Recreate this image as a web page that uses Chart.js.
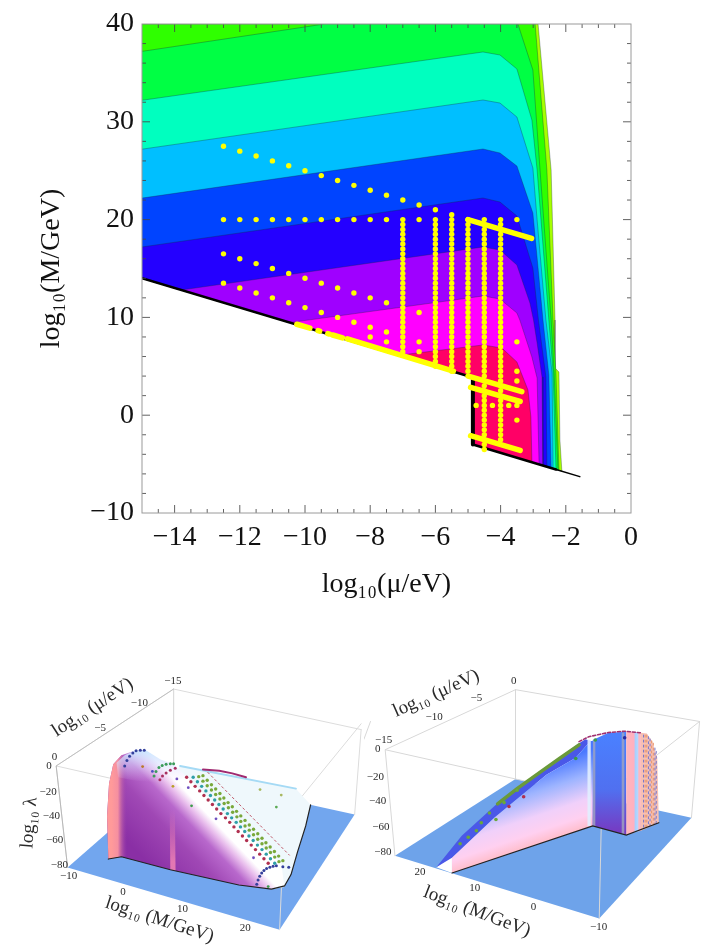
<!DOCTYPE html>
<html><head><meta charset="utf-8">
<style>
html,body{margin:0;padding:0;background:#fff;width:714px;height:949px;overflow:hidden}
canvas{position:absolute;display:block}
#main{left:0;top:0;filter:blur(.35px)}
#leftPanel{left:0;top:650px;filter:blur(.55px)}
#rightPanel{left:360px;top:650px;filter:blur(.55px)}
</style>
<script src="https://cdn.jsdelivr.net/npm/chart.js@4/dist/chart.umd.js"></script>
</head><body>
<canvas id="main" width="714" height="601"></canvas>
<canvas id="leftPanel" width="372" height="299"></canvas>
<canvas id="rightPanel" width="354" height="299"></canvas>
<script>
const SERIF='"Liberation Serif","Times New Roman",serif';
const xTitle='log₁₀(μ/eV)', yTitle='log₁₀(M/GeV)';

// ---- main contour plot: contour curves [log10 mu, log10 M] ----
const edgeX=[-15,-2.85,-2.45,-2.33,-2.33,-2.21,-2.18,-2.12];
const edgeY=[40,40,25.07,9.73,4.83,4.42,-2.54,-5.73];
const limeX=[-15,-2.94,-2.58,-2.39,-2.30,-2.21];
const limeY=[40,40,25.07,9.73,4.11,-5.64];
const c37X=[-15,-9.4,-3.47,-3.01,-2.79,-2.45,-2.36,-2.24];
const c37Y=[37.2,40,40,35.30,25.07,9.73,4.42,-5.61];
const c32X=[-15,-4.54,-4.02,-3.50,-3.04,-2.88,-2.52,-2.39,-2.30];
const c32Y=[32.2,37.14,36.83,35.40,30.18,25.07,9.73,4.42,-5.55];
const c27X=[-15,-4.54,-4.02,-3.50,-3.01,-2.88,-2.61,-2.42,-2.39];
const c27Y=[27.2,32.23,31.92,30.49,25.28,19.96,9.73,4.31,-5.46];
const c22X=[-15,-4.54,-4.02,-3.50,-3.01,-2.70,-2.52,-2.45];
const c22Y=[22.2,27.22,26.81,25.48,20.67,9.73,4.11,-5.40];
const c17X=[-15,-4.54,-4.02,-3.50,-3.01,-2.84,-2.61,-2.58];
const c17Y=[17.2,22.21,21.80,20.37,15.05,9.73,3.91,-5.27];
const c12X=[-13.8,-4.54,-4.02,-3.50,-3.10,-2.99,-2.88,-2.73,-2.70];
const c12Y=[12.8,17.20,16.89,15.36,11.47,9.73,7.38,3.91,-5.15];
const c7X=[-10.47,-4.54,-4.02,-3.50,-3.41,-3.04,-2.88,-2.82];
const c7Y=[9.47,12.19,11.88,10.45,9.73,5.95,3.80,-5.03];
const c2X=[-7.13,-4.54,-3.96,-3.50,-3.16,-3.07,-3.04];
const c2Y=[6.13,7.18,6.87,5.44,2.58,-0.18,-4.81];
const wallX=[-15,-4.85,-4.85,-1.57];
const wallY=[14,3.85,-3,-6.28];
const bandColors=['#a6ff00','#2fff00','#00ff44','#00ffbf','#00bfff','#0044ff','#2400ff','#9f00ff','#ff00ff','#ff0066'];

// ---- main contour plot: yellow sample points ----
const rowAX=[-12.5,-12,-11.5,-11,-10.5,-10,-9.5,-9,-8.5,-8,-7.5,-7,-6.5,-6];
const rowAY=[27.5,27,26.5,26,25.5,25,24.5,24,23.5,23,22.5,22,21.5,21];
const rowBX=[-12.5,-12,-11.5,-11,-10.5,-10,-9.5,-9,-8.5,-8,-7.5,-6.5,-3.5];
const rowBY=[20,20,20,20,20,20,20,20,20,20,20,20,20];
const rowCX=[-12.5,-12,-11.5,-11,-10.5,-10,-9.5,-9,-8.5,-8,-7.5,-6.5];
const rowCY=[16.5,16,15.5,15,14.5,14,13.5,13,12.5,12,11.5,10.5];
const rowDX=[-12.5,-12,-11.5,-11,-10.5,-10,-9.5,-9,-8.5,-8,-7.5,-6.5];
const rowDY=[13.5,13,12.5,12,11.5,11,10.5,10,9.5,9,8.5,7.5];
const rowEX=[-8,-7.5,-6.5,-4.75,-4.25,-3.75,-3.5,-3.5,-3.5,-3.5,-3.5];
const rowEY=[8,7.5,6.5,1,1,1,1,7.5,4.5,3.5,-0.5];
const colM7=[20,19.5,19,18.5,18,17.5,17,16.5,16,15.5,15,14.5,14,13.5,13,12.5,12,11.5,11,10.5,10,9.5,9,8.5,8,7.5,7,6.5];
const colM6=[20,19.5,19,18.5,18,17.5,17,16.5,16,15.5,15,14.5,14,13.5,13,12.5,12,11.5,11,10.5,10,9.5,9,8.5,8,7.5,7,6.5,6,5.5,5];
const colM55=[20.5,20,19.5,19,18.5,18,17.5,17,16.5,16,15.5,15,14.5,14,13.5,13,12.5,12,11.5,11,10.5,10,9.5,9,8.5,8,7.5,7,6.5,6,5.5,5,4.5];
const colM5=[20,19.5,19,18.5,18,17.5,17,16.5,16,15.5,15,14.5,14,13.5,13,12.5,12,11.5,11,10.5,10,9.5,9,8.5,8,7.5,7,6.5,6,5.5,5,4.5,4];
const colM45=[20,19.5,19,18.5,18,17.5,17,16.5,16,15.5,15,14.5,14,13.5,13,12.5,12,11.5,11,10.5,10,9.5,9,8.5,8,7.5,7,6.5,6,5.5,5,4.5,4,3.5,3,2.5,2,1.5,1,0.5,0,-0.5,-1,-1.5,-2,-2.5,-3,-3.5];
const colM4=[20,19.5,19,18.5,18,17.5,17,16.5,16,15.5,15,14.5,14,13.5,13,12.5,12,11.5,11,10.5,10,9.5,9,8.5,8,7.5,7,6.5,6,5.5,5,4.5,4,3.5,3,2.5,2,1.5,1,0.5,0,-0.5,-1,-1.5,-2,-2.5];
const barSegments=[
 [[-5,-3.05],[20,18.07]],[[-4.94,-3.35],[3.94,2.4]],[[-4.92,-3.4],[2.85,1.4]],[[-4.92,-3.4],[-2.1,-3.6]],
 [[-10.25,-9.85],[9.3,8.9]],[[-9.15,-8.85],[8.2,7.9]],[[-8.7,-5.45],[7.8,4.5]],[[-9.6,-9.55],[8.65,8.6]],[[-9.3,-9.25],[8.35,8.3]]
];
const tickXMinor=[-14.5,-13.5,-13,-12.5,-11.5,-11,-10.5,-9.5,-9,-8.5,-7.5,-7,-6.5,-5.5,-5,-4.5,-3.5,-3,-2.5,-1.5,-1,-0.5];
const tickXMajor=[-14,-12,-10,-8,-6,-4,-2];
const tickYMinor=[38,36,34,32,28,26,24,22,18,16,14,12,8,6,4,2,-2,-4,-6,-8];
const tickYMajor=[30,20,10,0];

// ---- lower-left 3D view, projected picture coordinates ----
const lBoxLines=[[[160,520],[345,108]],[[520,1095],[108,233]],[[160,860],[345,505]],[[860,1095],[505,215]],[[160,195],[345,658]],[[860,845],[505,850]],[[520,520],[108,385]],[[1095,1075],[233,495]]];
const lFloorX=[195,845,1075,520], lFloorY=[658,850,495,372];
const lPaleX=[540,895,940,925,900,880,860,820,760,640,500], lPaleY=[345,415,465,530,610,680,715,725,700,560,400];
const lFaceX=[320,316,322,335,360,400,435,480,520,560,700,850,860,820,720,510,360];
const lFaceY=[632,500,400,340,312,298,297,325,340,378,518,645,718,725,712,665,625];
const lSalmonX=[320,316,322,335,360,378,378,360], lSalmonY=[632,500,400,340,312,315,622,625];
const lStreakX=[508,524,526,510], lStreakY=[480,480,668,665];
const lGlowX=[345,370,400,435,480,520,560,510,400,350], lGlowY=[335,312,298,297,325,340,378,400,390,380];
const lEdgeX=[320,360,510,720,820,860,880,900,925,940], lEdgeY=[632,625,665,712,725,715,680,610,530,465];
const lTopEdgeX=[540,895], lTopEdgeY=[345,415];
const lCrimsonX=[560,573,586,600,613,626,639,652,665,679,692,705,718,731,744,758,771,784,797,810];
const lCrimsonY=[380,394,408,422,436,450,464,478,492,505,519,533,547,561,575,589,603,617,631,645];
const lTealX=[580,593,606,619,633,646,659,672,685,698,712,725,738,751,764,777,791,804,817,830];
const lTealY=[380,394,408,422,436,450,464,478,492,505,519,533,547,561,575,589,603,617,631,645];
const lGreenAX=[597,610,623,636,649,662,675,688,701,714,726,739,752,765,778,791,804,817,830,843];
const lGreenAY=[378,392,406,419,433,447,461,474,488,502,516,530,543,557,571,585,598,612,626,640];
const lGreenBX=[610,623,636,649,662,674,687,700,713,726,739,752,765,778,791,803,816,829,842,855];
const lGreenBY=[375,389,403,416,430,444,458,471,485,499,513,527,540,554,568,582,595,609,623,637];
const lNavyX=[775,779,784,790,797,805,815,825,835,855,873,370,377,385,395,405,418,430];
const lNavyY=[710,697,685,675,667,661,657,654,653,656,657,345,328,315,305,298,297,297];
const lArcGreenX=[460,466,475,485,497,510,520], lArcGreenY=[376,362,350,344,340,338,338];
const lArcRedX=[478,486,497,510,525], lArcRedY=[388,376,367,358,352];
const lScatterX=[575,425,518,810,835,785,850,565,650,455,530,765];
const lScatterY=[468,347,408,717,472,418,435,412,508,362,385,628];
const lScatterC=['#3c9c4a','#b87a28','#b8a028','#3c9c4a','#5caa55','#a8b860','#a8b860','#7050c0','#7050c0','#5050c0','#7050c0','#7050c0'];
const lWireX=[625,875], lWireY=[365,620];
const lRidgeX=[610,660,700,742], lRidgeY=[356,360,368,380];

// ---- lower-right 3D view, projected picture coordinates ----
const rBoxLines=[[[65,465],[295,110]],[[465,1030],[110,208]],[[65,730],[295,445]],[[730,1030],[445,208]],[[65,95],[295,622]],[[730,722],[445,815]],[[465,465],[110,385]],[[1030,1005],[208,505]],[[0,20],[262,208]]];
const rFloorX=[95,722,1005,465], rFloorY=[622,815,505,385];
const rGapX=[222,270,270], rGapY=[657,622,675];
const rBlueX=[222,300,410,530,660,680,695,650,560,400,270];
const rBlueY=[657,560,460,370,275,263,268,320,372,505,628];
const rFaceX=[270,270,400,560,650,695,705,702];
const rFaceY=[675,628,505,372,320,268,268,530];
const rBlockX=[702,750,805,805,702], rBlockY=[265,243,240,558,530];
const rPinkX=[805,850,850,805], rPinkY=[240,243,545,558];
const rSpeckX=[850,868,885,900,905,850], rSpeckY=[243,245,270,320,520,545];
const rEdgeX=[270,702,805,905], rEdgeY=[675,530,558,520];
const rStripeA=[[[686,696],[264,530]],[[703,710],[266,532]],[[791,799],[242,555]]];
const rRidgeX=[410,470,530,600,660], rRidgeY=[462,415,372,322,280];
const rTopX=[660,690,750,800,850], rTopY=[270,255,242,238,243];
const rDotsX=[710,800,650,470,430,385,345,320,295,490,445,405,360];
const rDotsY=[265,258,322,420,458,490,545,565,585,440,470,510,520];
const rDotsC=['#3c9c4a','#2a2aa0','#3c9c4a','#6aa83a','#6aa83a','#6aa83a','#6aa83a','#6aa83a','#6aa83a','#b03050','#b03050','#6aa83a','#6aa83a'];
const rSpeckLines=[[[858,858],[250,540]],[[868,868],[250,535]],[[878,878],[262,530]],[[888,888],[275,527]],[[897,897],[300,523]],[[863,863],[250,538]],[[873,873],[255,533]],[[883,883],[268,529]],[[893,893],[290,525]]];

// ---- 3D view annotations: text, picture x, y, angle, size ----
const lLabels=[
 ['−15',518,85,0,11],['−10',415,150,0,11],['−5',295,228,0,11],['0',155,317,0,11],
 ['0',138,345,0,11],['−20',135,425,0,11],['−40',145,500,0,11],['−60',155,575,0,11],['−80',170,650,0,11],
 ['−10',198,685,0,11],['0',365,733,0,11],['10',547,787,0,11],['20',740,845,0,11],
 ['log₁₀ (μ/eV)',272,165,-33,19],['log₁₀ λ',78,520,-85,19],['log₁₀ (M/GeV)',477,820,18,19]];
const rLabels=[
 ['0',460,83,0,11],['−5',345,135,0,11],['−10',215,195,0,11],['−15',60,265,0,11],
 ['0',42,292,0,11],['−20',35,378,0,11],['−40',42,455,0,11],['−60',52,533,0,11],['−80',58,612,0,11],
 ['20',172,672,0,11],['10',340,723,0,11],['0',520,780,0,11],['−10',720,843,0,11],
 ['log₁₀ (μ/eV)',222,122,-24,19],['log₁₀ (M/GeV)',347,795,21,19]];

// ---- helpers ----
const pts=(xs,ys)=>xs.map((x,i)=>({x,y:ys[i]}));
function poly(xs,ys,color,order,border){return{data:pts(xs,ys),showLine:true,fill:'shape',backgroundColor:color,borderColor:border||'rgba(0,0,0,0)',borderWidth:border?1:0,pointRadius:0,tension:0,order};}
function path(xs,ys,color,width,order,dash){return{data:pts(xs,ys),showLine:true,fill:false,borderColor:color,borderWidth:width,borderDash:dash||[],borderCapStyle:'round',pointRadius:0,tension:0,order};}
function dots(xs,ys,color,r,order){return{data:pts(xs,ys),showLine:false,pointRadius:r,pointBackgroundColor:color,pointBorderWidth:0,order};}
function grad(x0,y0,x1,y1,stops){return c=>{const ch=c.chart,X=ch.scales.x,Y=ch.scales.y;
  if(!X||!Y) return stops[0][1];
  const a=[X.getPixelForValue(x0),Y.getPixelForValue(y0),X.getPixelForValue(x1),Y.getPixelForValue(y1)];
  if(!a.every(Number.isFinite)) return stops[0][1];
  const g=ch.ctx.createLinearGradient(a[0],a[1],a[2],a[3]);
  stops.forEach(s=>g.addColorStop(s[0],s[1]));return g;};}

// regions are closed along the lower wall of the allowed area
function region(xs,ys){
  const back=[[wallX[2],wallY[2]],[wallX[1],wallY[1]]];
  if(xs[0]===wallX[0]) back.push([wallX[0],wallY[0]]);
  return [xs.concat(back.map(p=>p[0])),ys.concat(back.map(p=>p[1]))];
}
const YEL='#ffff00';
const curves=[[edgeX,edgeY],[limeX,limeY],[c37X,c37Y],[c32X,c32Y],[c27X,c27Y],[c22X,c22Y],[c17X,c17Y],[c12X,c12Y],[c7X,c7Y],[c2X,c2Y]];
const mainSets=[];
curves.forEach((c,i)=>{const r=region(c[0],c[1]);
  mainSets.push(poly(r[0],r[1],bandColors[i],100-i,'rgba(20,40,60,0.32)'));});
mainSets.push(path(wallX.slice(0,2),wallY.slice(0,2),'#000',2.5,40));
mainSets.push(path(wallX.slice(1,3),wallY.slice(1,3),'#000',4,40));
mainSets.push(path([wallX[2],-2.3],[wallY[2],-5.55],'#000',2.5,40));
mainSets.push(path([-2.3,wallX[3]],[-5.55,wallY[3]],'#000',1.5,40));
barSegments.forEach(s=>mainSets.push(path(s[0],s[1],YEL,5.5,5)));
[[rowAX,rowAY],[rowBX,rowBY],[rowCX,rowCY],[rowDX,rowDY],[rowEX,rowEY]].forEach(r=>mainSets.push(dots(r[0],r[1],YEL,2.7,4)));
[[-7,colM7],[-6,colM6],[-5.5,colM55],[-5,colM5],[-4.5,colM45],[-4,colM4]].forEach(c=>mainSets.push(dots(c[1].map(()=>c[0]),c[1],YEL,2.7,3)));

const frame={id:'frame',afterDatasetsDraw(ch){
  const g=ch.ctx,X=ch.scales.x,Y=ch.scales.y,a=ch.chartArea;
  g.save();g.strokeStyle='rgba(70,70,70,.85)';g.lineWidth=1;
  const h=(v,l)=>{const p=X.getPixelForValue(v);g.beginPath();g.moveTo(p,a.bottom);g.lineTo(p,a.bottom-l);g.moveTo(p,a.top);g.lineTo(p,a.top+l);g.stroke();};
  const w=(v,l)=>{const p=Y.getPixelForValue(v);g.beginPath();g.moveTo(a.left,p);g.lineTo(a.left+l,p);g.moveTo(a.right,p);g.lineTo(a.right-l,p);g.stroke();};
  tickXMinor.forEach(v=>h(v,4));tickXMajor.forEach(v=>h(v,8));tickYMinor.forEach(v=>w(v,4));tickYMajor.forEach(v=>w(v,8));
  g.strokeStyle='#9a9a9a';g.strokeRect(a.left,a.top,a.right-a.left,a.bottom-a.top);g.restore();}};

const fmt=v=>String(v).replace('-','−');
new Chart(document.getElementById('main'),{type:'scatter',data:{datasets:mainSets},plugins:[frame],options:{
 responsive:false,animation:false,events:[],
 layout:{padding:{left:0,right:83,top:24,bottom:0}},
 plugins:{legend:{display:false},tooltip:{enabled:false}},
 scales:{
  x:{type:'linear',min:-15,max:0,grid:{display:false},border:{display:false},
     afterBuildTicks:s=>{s.ticks=[-14,-12,-10,-8,-6,-4,-2,0].map(value=>({value}));},
     afterFit:s=>{s.height=88;},
     ticks:{maxRotation:0,autoSkip:false,padding:0,color:'#111',font:{family:SERIF,size:28},callback:fmt},
     title:{display:true,text:xTitle,color:'#111',font:{family:SERIF,size:28},padding:{top:0,bottom:0}}},
  y:{type:'linear',min:-10,max:40,grid:{display:false},border:{display:false},
     afterBuildTicks:s=>{s.ticks=[-10,0,10,20,30,40].map(value=>({value}));},
     afterFit:s=>{s.width=142;},
     ticks:{autoSkip:false,padding:0,color:'#111',font:{family:SERIF,size:28},callback:fmt},
     title:{display:true,text:yTitle,color:'#111',font:{family:SERIF,size:28},padding:{top:35,bottom:0}}}
 }}});

function textPlugin(list){return{id:'viewText',afterDatasetsDraw(ch){
  const g=ch.ctx,X=ch.scales.x,Y=ch.scales.y;g.save();g.fillStyle='#2a2a2a';g.textAlign='center';g.textBaseline='middle';
  list.forEach(l=>{g.save();g.translate(X.getPixelForValue(l[1]),Y.getPixelForValue(l[2]));g.rotate(l[3]*Math.PI/180);g.font=l[4]+'px '+SERIF;g.fillText(l[0],0,0);g.restore();});
  g.restore();}};}
function panel(id,w,sets,labels){new Chart(document.getElementById(id),{type:'scatter',data:{datasets:sets},plugins:[textPlugin(labels)],options:{
 responsive:false,animation:false,events:[],layout:{padding:0},
 plugins:{legend:{display:false},tooltip:{enabled:false}},
 scales:{x:{type:'linear',display:false,min:0,max:w},y:{type:'linear',display:false,min:0,max:897,reverse:true}}}});}

// left 3D view
const lSets=[];
lSets.push(poly(lFloorX,lFloorY,'#72a6ee',90));
lBoxLines.forEach(b=>lSets.push(path(b[0],b[1],'#dcdcdc',1,85)));
lSets.push(path([160,195],[345,658],'#b8b8b8',1,84));
lSets.push(path([160,520],[345,108],'#c0c0c0',1,84));
lSets.push(poly(lPaleX,lPaleY,'#eff8fc',80));
lSets.push(path(lTopEdgeX,lTopEdgeY,'#a5daf5',2,79));
lSets.push(path(lRidgeX,lRidgeY,'#a02a70',2,78));
lSets.push(poly(lFaceX,lFaceY,grad(400,600,570,437,[[0,'#8a2fa5'],[.49,'#a048b5'],[.745,'#b868cc'],[.89,'#e8bcec'],[1,'#ffffff']]),70));
lSets.push(poly(lSalmonX,lSalmonY,grad(330,0,378,0,[[0,'#ff9a9a'],[.4,'#f58fa0'],[1,'rgba(150,60,175,0)']]),69));
lSets.push(poly(lStreakX,lStreakY,grad(0,480,0,640,[[0,'rgba(240,130,180,0)'],[1,'rgba(240,130,180,.85)']]),68));
lSets.push(poly(lGlowX,lGlowY,grad(0,297,0,395,[[0,'rgba(200,230,255,.95)'],[1,'rgba(235,215,255,0)']]),67));
lSets.push(path(lEdgeX,lEdgeY,'#222',1.2,60));
lSets.push(path(lWireX,lWireY,'#c05a6a',1,50,[2,3]));
lSets.push(dots(lCrimsonX,lCrimsonY,'#b0304f',1.7,40));
lSets.push(dots(lTealX,lTealY,'#2f9fa8',1.7,40));
lSets.push(dots(lGreenAX,lGreenAY,'#79a83a',1.7,40));
lSets.push(dots(lGreenBX,lGreenBY,'#79a83a',1.7,40));
lSets.push(dots(lNavyX,lNavyY,'#34409c',1.5,40));
lSets.push(dots(lArcGreenX,lArcGreenY,'#3c9c5a',1.5,40));
lSets.push(dots(lArcRedX,lArcRedY,'#a83060',1.5,40));
lSets.push(dots(lScatterX,lScatterY,lScatterC,1.4,40));
panel('leftPanel',1116,lSets,lLabels);

// right 3D view
const rSets=[];
rSets.push(poly(rFloorX,rFloorY,'#6ea3ea',90));
rBoxLines.forEach(b=>rSets.push(path(b[0],b[1],'#d8d8d8',1,85)));
rSets.push(poly(rGapX,rGapY,'#ffffff',82));
rSets.push(poly(rBlueX,rBlueY,'#4a58e8',75));
rSets.push(poly(rFaceX,rFaceY,grad(590,330,665,553,[[0,'#4a78ff'],[.3,'#9db4ff'],[.6,'#f0d0fa'],[.8,'#ffd0f0'],[1,'#ffb8c0']]),70));
rSets.push(poly(rBlockX,rBlockY,grad(0,250,0,555,[[0,'#4a80ff'],[.55,'#5070f0'],[1,'#7838c0']]),69));
rSets.push(poly(rPinkX,rPinkY,grad(805,0,850,0,[[0,'#ffb6bc'],[.52,'#ffb0c0'],[.62,'#a8d0ff'],[.8,'#b8d8ff'],[.85,'#ffb8c0'],[1,'#ffb8c0']]),68));
rSets.push(poly(rSpeckX,rSpeckY,'#f6c0b4',67));
rStripeA.forEach((s,i)=>rSets.push(poly([s[0][0],s[0][1],s[0][1],s[0][0]],[s[1][0],s[1][0],s[1][1],s[1][1]],i===0?'rgba(225,238,255,.9)':'rgba(160,165,190,.8)',66)));
rSpeckLines.forEach((s,i)=>rSets.push(path(s[0],s[1],i%2?'#e89468':'#7676cc',1,65,[2,3])));
rSets.push(path(rEdgeX,rEdgeY,'#222',1.2,60));
rSets.push(path(rRidgeX,rRidgeY,'#6a9a3a',3.5,50));
rSets.push(path(rTopX,rTopY,'#a03070',1.6,50,[3,2]));
rSets.push(dots(rDotsX,rDotsY,rDotsC,1.8,40));
panel('rightPanel',1062,rSets,rLabels);
</script>
</body></html>
